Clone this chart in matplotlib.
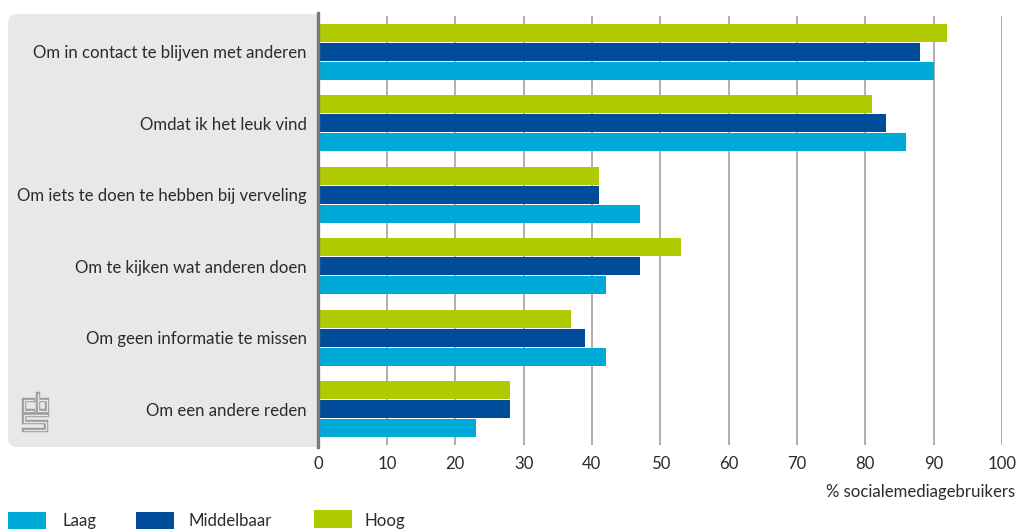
import matplotlib
matplotlib.use("Agg")
import matplotlib.pyplot as plt
import matplotlib.patches as mpatches
import matplotlib.patheffects as pe
from matplotlib.lines import Line2D
from matplotlib.transforms import IdentityTransform
import numpy as np

categories = [
    "Om in contact te blijven met anderen",
    "Omdat ik het leuk vind",
    "Om iets te doen te hebben bij verveling",
    "Om te kijken wat anderen doen",
    "Om geen informatie te missen",
    "Om een andere reden",
]
hoog = [92, 81, 41, 53, 37, 28]
middelbaar = [88, 83, 41, 47, 39, 28]
laag = [90, 86, 47, 42, 42, 23]
series_names = ["Laag", "Middelbaar", "Hoog"]
xticks = list(range(0, 101, 10))
xlabel = "% socialemediagebruikers"

C_LAAG = "#00aad8"
C_MID = "#004c9b"
C_HOOG = "#afca00"
TEXT = "#2b2b2b"

plt.rcParams["font.family"] = ["Lato", "DejaVu Sans"]
FS = 12.1

W, H = 1016, 529
fig = plt.figure(figsize=(W / 100, H / 100), dpi=100)
px = IdentityTransform()


def Y(y):
    return H - y


# grey label panel behind the category names (rounded on the left side)
panel_col = "#e8e8e8"
fig.add_artist(mpatches.FancyBboxPatch((8, Y(447)), 290, 433,
                                       boxstyle="round,pad=0,rounding_size=9",
                                       transform=px, facecolor=panel_col,
                                       edgecolor="none", zorder=-2))
fig.add_artist(mpatches.Rectangle((280, Y(447)), 38, 433, transform=px,
                                  facecolor=panel_col, edgecolor="none", zorder=-2))

x0, x1 = 318.5, 1002
ax = fig.add_axes([x0 / W, Y(445) / H, (x1 - x0) / W, (445 - 16) / H])
ax.set_facecolor("white")
ax.patch.set_alpha(0)

y = np.arange(len(categories))
off = 0.266
h = 0.252
ax.barh(y - off, hoog, height=h, color=C_HOOG, zorder=3)
ax.barh(y, middelbaar, height=h, color=C_MID, zorder=3)
ax.barh(y + off, laag, height=h, color=C_LAAG, zorder=3)

ax.set_xlim(0, 100)
ax.set_ylim(len(categories) - 0.5, -0.5)
ax.set_yticks(y)
ax.set_yticklabels(categories, fontsize=FS, color=TEXT)
ax.set_xticks(xticks)
ax.set_xticklabels([str(t) for t in xticks], fontsize=FS, color=TEXT)
ax.tick_params(axis="y", length=0, pad=8.5)
ax.tick_params(axis="x", length=0, pad=8)
for s in ax.spines.values():
    s.set_visible(False)
for t in xticks[1:]:
    ax.axvline(t, color="#9a9a9a", lw=1.1, zorder=1)

# baseline at zero
fig.add_artist(Line2D([317.5, 317.5], [Y(447), Y(13)], transform=px,
                      color="#7a7a7a", lw=2.4, zorder=5))

fig.text(1015 / W, Y(492) / H, xlabel, ha="right", va="center",
         fontsize=FS, color=TEXT)

# legend along the bottom edge
legend_items = [(series_names[0], C_LAAG, 8, 512, 63),
                (series_names[1], C_MID, 136, 512, 188),
                (series_names[2], C_HOOG, 314, 510, 365)]
for name, col, lx, ly, tx in legend_items:
    fig.add_artist(mpatches.Rectangle((lx, Y(ly + 18)), 38, 18, transform=px,
                                      facecolor=col, edgecolor="none"))
    fig.text(tx / W, Y(526) / H, name, ha="left", va="baseline",
             fontsize=FS, color=TEXT)

# small cbs mark in the panel
logo_fx = [pe.Stroke(linewidth=3.2, foreground="#9c9c9c"),
           pe.Stroke(linewidth=1.0, foreground="#e6e6e6")]
logo_paths = [
    [(33, 400), (24, 400), (24, 411), (33, 411)],
    [(38, 394), (38, 411), (47, 411), (47, 400), (38, 400)],
    [(47, 415), (24, 415), (24, 422), (46, 422), (46, 430), (24, 430)],
]
for pts in logo_paths:
    xs = [p[0] for p in pts]
    ys = [Y(p[1]) for p in pts]
    fig.add_artist(Line2D(xs, ys, transform=px, color="#e6e6e6", lw=1.0,
                          solid_joinstyle="miter", path_effects=logo_fx))

fig.savefig("out.png", dpi=100)
